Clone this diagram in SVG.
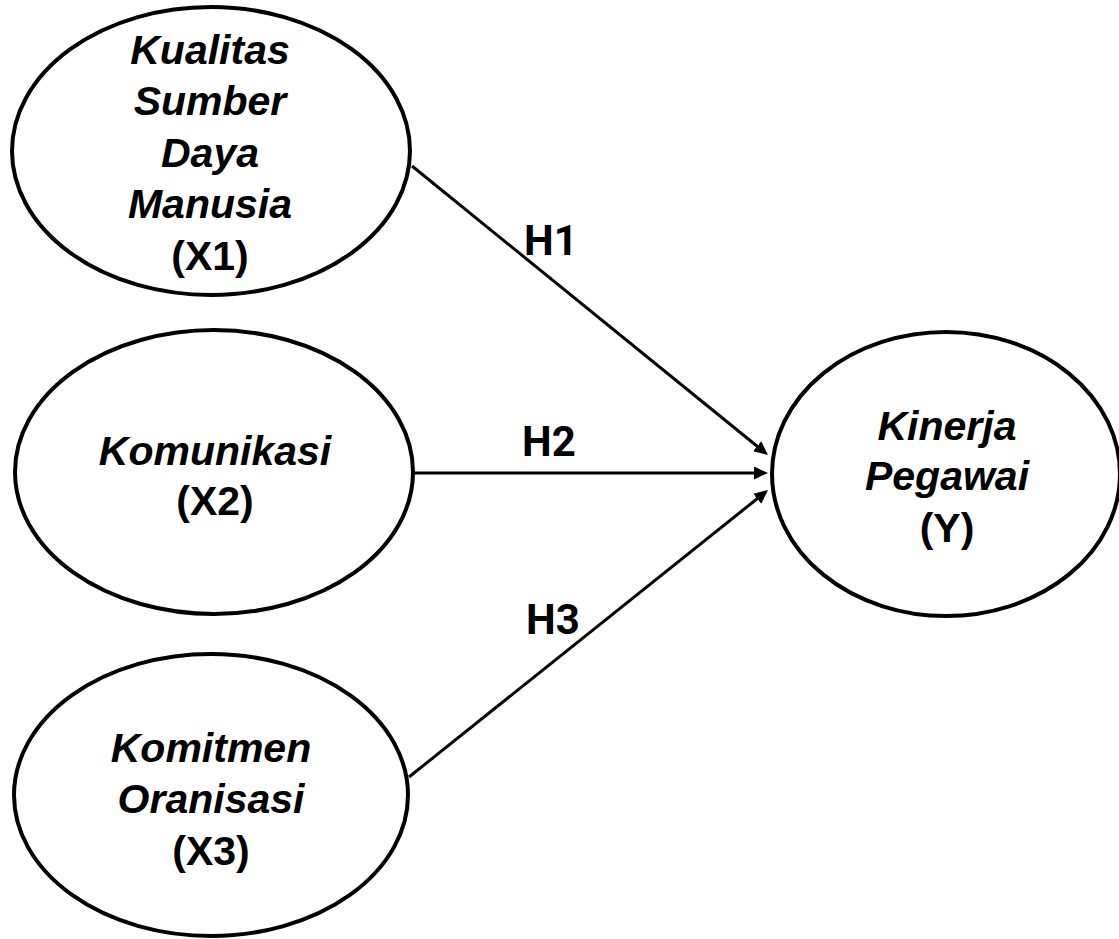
<svg xmlns="http://www.w3.org/2000/svg" width="1119" height="939" viewBox="0 0 1119 939">
<style>
.node ellipse{fill:#fff;stroke:#000;stroke-width:4}
.name{font-family:"Liberation Sans",Arial,sans-serif;font-size:41px;font-weight:bold;font-style:italic;text-anchor:middle;fill:#000}
.code{font-family:"Liberation Sans",Arial,sans-serif;font-size:41px;font-weight:bold;text-anchor:middle;fill:#000}
.lbl{font-family:Roboto,"Liberation Sans",sans-serif;font-size:42px;font-weight:bold;fill:#000}
.edge{stroke:#000;stroke-width:3;fill:none;marker-end:url(#arr)}
</style>
<defs>
<marker id="arr" markerUnits="userSpaceOnUse" markerWidth="14" markerHeight="13" refX="6" refY="6.5" orient="auto">
<path d="M0,0 L14,6.5 L0,13 z" fill="#000"/>
</marker>
</defs>
<rect width="1119" height="939" fill="#fff"/>
<g id="connectors">
<line class="edge" x1="412" y1="166" x2="761.8" y2="450"/>
<line class="edge" x1="414" y1="473" x2="760" y2="473"/>
<line class="edge" x1="409" y1="777" x2="761.8" y2="495"/>
<text class="lbl" x="524" y="255">H1</text>
<text class="lbl" x="522" y="456">H2</text>
<text class="lbl" x="526" y="634">H3</text>
</g>
<g id="X1" class="node">
<ellipse cx="211" cy="151" rx="199" ry="144"/>
<text class="name" x="210" y="64">Kualitas</text>
<text class="name" x="210" y="115">Sumber</text>
<text class="name" x="210" y="167">Daya</text>
<text class="name" x="210" y="218">Manusia</text>
<text class="code" x="210" y="270">(X1)</text>
</g>
<g id="X2" class="node">
<ellipse cx="214" cy="472" rx="199" ry="142"/>
<text class="name" x="215" y="465">Komunikasi</text>
<text class="code" x="215" y="515">(X2)</text>
</g>
<g id="X3" class="node">
<ellipse cx="211" cy="795" rx="197" ry="141"/>
<text class="name" x="211" y="762">Komitmen</text>
<text class="name" x="211" y="813">Oranisasi</text>
<text class="code" x="211" y="865">(X3)</text>
</g>
<g id="Y" class="node">
<ellipse cx="946" cy="474" rx="174" ry="142"/>
<text class="name" x="947" y="440">Kinerja</text>
<text class="name" x="947" y="490">Pegawai</text>
<text class="code" x="947" y="542">(Y)</text>
</g>
</svg>
